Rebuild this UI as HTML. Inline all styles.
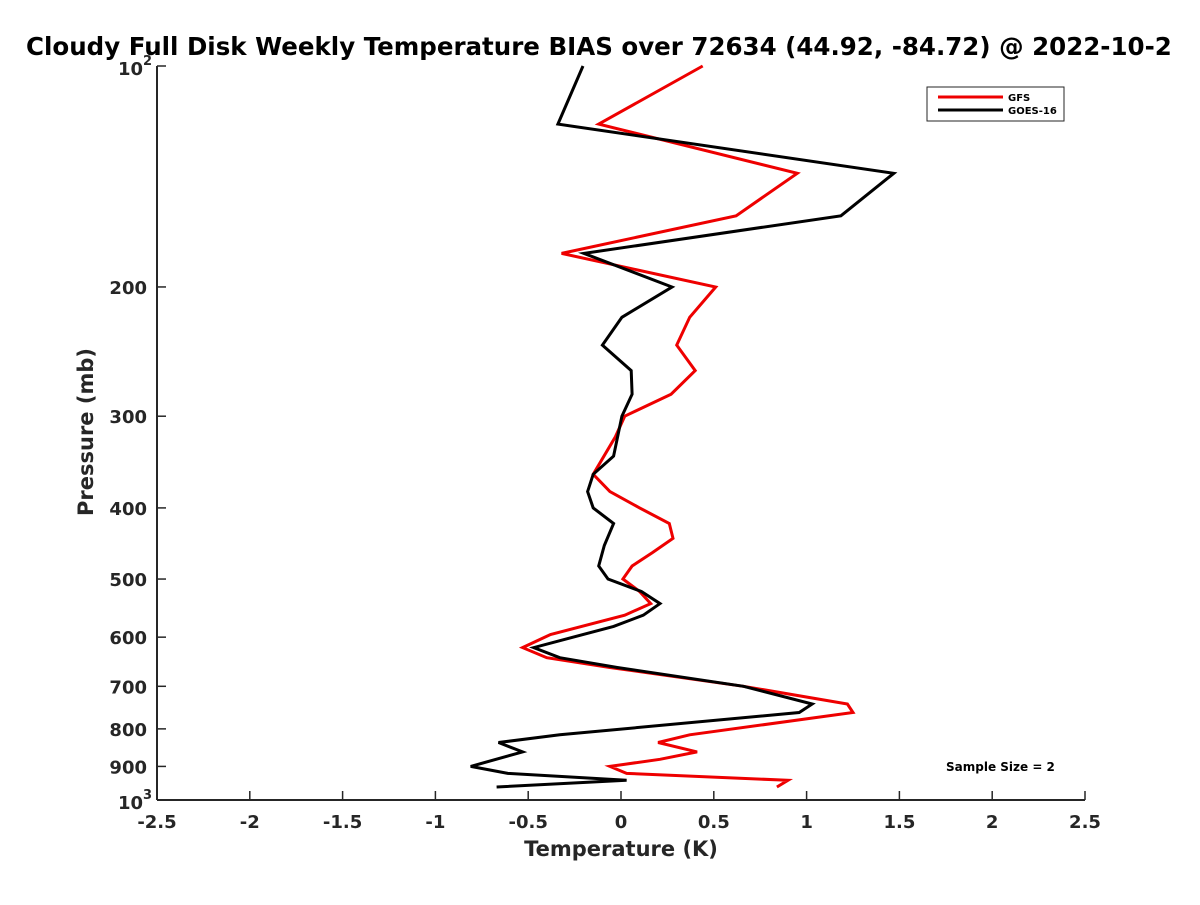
<!DOCTYPE html>
<html><head><meta charset="utf-8"><style>
body{margin:0;background:#fff;}
svg text{font-family:"DejaVu Sans","Liberation Sans",sans-serif;font-weight:bold;}
</style></head><body>
<svg id="chart" width="1200" height="900" xmlns="http://www.w3.org/2000/svg">
<rect width="1200" height="900" fill="#fff"/>
<text x="26" y="55" font-size="24.5" fill="#000">Cloudy Full Disk Weekly Temperature BIAS over 72634 (44.92, -84.72) @ 2022-10-2</text>
<g id="axes"></g>
<g id="series"></g>
<g>
<rect x="927" y="87" width="137" height="34" fill="#fff" stroke="#262626" stroke-width="1"/>
<line x1="938" y1="97" x2="1003" y2="97" stroke="#e00" stroke-width="3"/>
<text x="1008" y="101" font-size="10" fill="#000">GFS</text>
<line x1="938" y1="110" x2="1003" y2="110" stroke="#000" stroke-width="3"/>
<text x="1008" y="114" font-size="10" fill="#000">GOES-16</text>
</g>
<text x="946" y="771" font-size="12" fill="#000">Sample Size = 2</text>
<text x="621" y="856" font-size="21" text-anchor="middle" fill="#262626">Temperature (K)</text>
<text transform="translate(93,432) rotate(-90)" font-size="21" text-anchor="middle" fill="#262626">Pressure (mb)</text>
</svg>
<script>
const xTicks=[-2.5,-2,-1.5,-1,-0.5,0,0.5,1,1.5,2,2.5];
const yTicks=[200,300,400,500,600,700,800,900];
const gfsPressure=[100,120,140,160,180,200,220,240,260,280,300,320,360,380,400,420,440,460,480,500,520,540,560,595,620,640,660,700,740,760,815,835,860,880,900,920,940,960];
const gfsTemp=[0.44,-0.12,0.95,0.62,-0.32,0.51,0.37,0.30,0.40,0.27,0.02,-0.03,-0.15,-0.06,0.10,0.26,0.28,0.17,0.06,0.01,0.10,0.16,0.02,-0.38,-0.53,-0.40,-0.06,0.66,1.22,1.25,0.37,0.20,0.41,0.21,-0.06,0.03,0.90,0.84];
const goesPressure=[100,120,140,160,180,200,220,240,260,280,300,340,360,380,400,420,450,480,500,520,540,560,580,620,640,660,700,740,760,815,835,860,900,920,940,960];
const goesTemp=[-0.205,-0.34,1.47,1.185,-0.2,0.275,0.005,-0.1,0.055,0.06,0.005,-0.04,-0.15,-0.18,-0.15,-0.04,-0.09,-0.12,-0.07,0.11,0.21,0.12,-0.04,-0.47,-0.33,-0.02,0.66,1.03,0.96,-0.33,-0.66,-0.53,-0.81,-0.61,0.03,-0.67];
const X0=157,X1=1085,Y0=66,Y1=800;
const xs=v=>X0+(v+2.5)/5*(X1-X0);
const ys=p=>Y0+(Math.log10(p)-2)*(Y1-Y0);
const NS='http://www.w3.org/2000/svg';
function mk(tag,attrs,parent){const e=document.createElementNS(NS,tag);for(const k in attrs)e.setAttribute(k,attrs[k]);parent.appendChild(e);return e;}
const ax=document.getElementById('axes');
let l=mk('line',{x1:X0,y1:Y0,x2:X0,y2:Y1,stroke:'#262626','stroke-width':2},ax);


l=mk('line',{x1:X0,y1:Y1,x2:X1,y2:Y1,stroke:'#262626','stroke-width':2},ax);


xTicks.forEach(v=>{
 const t=mk('line',{x1:xs(v),y1:Y1,x2:xs(v),y2:Y1-9,stroke:'#262626','stroke-width':1.5},ax);
 
 
 const tx=mk('text',{x:xs(v),y:Y1+28,'font-size':18,'text-anchor':'middle',fill:'#262626'},ax);
 tx.textContent=String(v);
 
 
});
[100].concat(yTicks,[1000]).forEach(p=>{
 const t=mk('line',{x1:X0,y1:ys(p),x2:X0+9,y2:ys(p),stroke:'#262626','stroke-width':1.5},ax);
 
 
});
yTicks.forEach(p=>{
 const tx=mk('text',{x:X0-10,y:ys(p)+7,'font-size':18,'text-anchor':'end',fill:'#262626'},ax);
 tx.textContent=String(p);
 
 
});
[[100,'2'],[1000,'3']].forEach(([p,e])=>{
 const tx=mk('text',{x:X0-14,y:ys(p)+9,'font-size':18,'text-anchor':'end',fill:'#262626'},ax);
 tx.textContent='10';
 
 
 const sp=mk('text',{x:X0-14,y:ys(p)-1,'font-size':13,fill:'#262626'},ax);
 sp.textContent=e;
 
 
});
const sg=document.getElementById('series');
function line(T,P,color,name){
 const pts=T.map((t,i)=>xs(t).toFixed(1)+','+ys(P[i]).toFixed(1)).join(' ');
 const pl=mk('polyline',{points:pts,fill:'none',stroke:color,'stroke-width':3,'stroke-linejoin':'miter'},sg);
 
 
}
line(gfsTemp,gfsPressure,'#e00','gfs-line');
line(goesTemp,goesPressure,'#000','goes16-line');
</script>
</body></html>
